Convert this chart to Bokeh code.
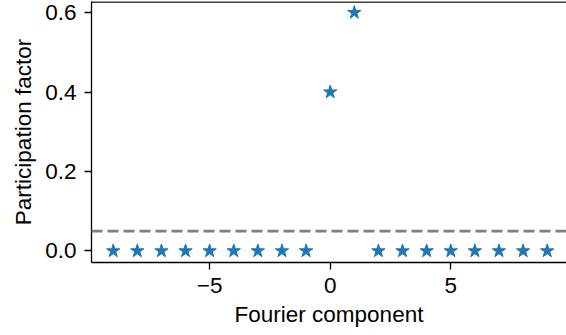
from bokeh.plotting import figure
from bokeh.models import Span, FixedTicker, Range1d, ColumnDataSource
from bokeh.embed import file_html
from bokeh.resources import INLINE

# data
components = [-9, -8, -7, -6, -5, -4, -3, -2, -1, 0, 1, 2, 3, 4, 5, 6, 7, 8, 9]
participation = [0.0, 0.0, 0.0, 0.0, 0.0, 0.0, 0.0, 0.0, 0.0, 0.4, 0.6,
                 0.0, 0.0, 0.0, 0.0, 0.0, 0.0, 0.0, 0.0]
threshold = 0.05
x_ticks = [-5, 0, 5]
x_tick_labels = ["\u22125", "0", "5"]
y_ticks = [0.0, 0.2, 0.4, 0.6]
y_tick_labels = ["0.0", "0.2", "0.4", "0.6"]

FONT = "Liberation Sans"
FS = "22.5px"

p = figure(width=566, height=335, output_backend="svg", toolbar_location=None,
           x_range=Range1d(-9.9, 9.8), y_range=Range1d(-0.029, 0.628),
           min_border_left=91, min_border_right=0, min_border_top=1,
           min_border_bottom=73)
p.outline_line_color = None
p.xgrid.visible = False
p.ygrid.visible = False
p.background_fill_color = "white"
p.border_fill_color = "white"

src = ColumnDataSource(dict(x=components, y=participation))
p.scatter("x", "y", source=src, marker="star", size=14,
          fill_color="#1f77b4", line_color="#1f77b4")

p.add_layout(Span(location=threshold, dimension="width", line_color="#808080",
                  line_width=2.6, line_dash="11 5"))
# top spine
p.add_layout(Span(location=0.6265, dimension="width", line_color="black",
                  line_width=1.5))

p.xaxis.ticker = FixedTicker(ticks=x_ticks)
p.xaxis.major_label_overrides = {t: l for t, l in zip(x_ticks, x_tick_labels)}
p.yaxis.ticker = FixedTicker(ticks=y_ticks)
p.yaxis.major_label_overrides = {t: l for t, l in zip(y_ticks, y_tick_labels)}

p.xaxis.axis_label = "Fourier component"
p.yaxis.axis_label = "Participation factor"

for ax in (p.xaxis[0], p.yaxis[0]):
    ax.axis_line_width = 1.3
    ax.axis_line_color = "black"
    ax.major_tick_line_width = 1.3
    ax.major_tick_line_color = "black"
    ax.major_tick_out = 7
    ax.major_tick_in = 0
    ax.minor_tick_line_color = None
    ax.major_label_text_font = FONT
    ax.major_label_text_font_size = FS
    ax.major_label_text_color = "black"
    ax.axis_label_text_font = FONT
    ax.axis_label_text_font_size = FS
    ax.axis_label_text_font_style = "normal"
    ax.axis_label_text_color = "black"
    ax.major_label_standoff = 8
    ax.axis_label_standoff = 6

open("out.html", "w").write(file_html(p, INLINE))
